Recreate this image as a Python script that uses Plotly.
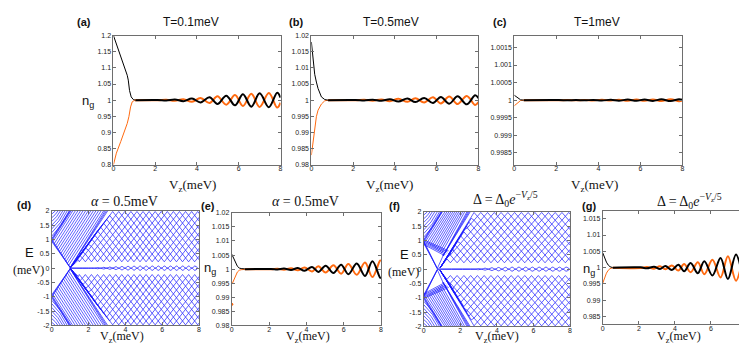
import math
import plotly.graph_objects as go

W, H = 747, 343

# ---------------- data ----------------
vz_ticks = [0, 2, 4, 6, 8]

# (a) T = 0.1 meV
a_black_x = [0, 0.14, 0.27, 0.43, 0.55, 0.66, 0.71, 0.77, 0.85, 0.95, 1.05]
a_black_y = [1.2, 1.174, 1.149, 1.123, 1.097, 1.077, 1.062, 1.03, 1.01, 1.002, 1.0]
a_orange_x = [0, 0.14, 0.35, 0.5, 0.66, 0.74, 0.82, 0.9, 1.02]
a_orange_y = [0.8, 0.836, 0.872, 0.897, 0.928, 0.949, 0.979, 0.995, 1.0]
top_peaks = [2.12, 2.53, 2.94, 3.35, 3.76, 4.17, 4.6, 4.98, 5.4, 5.82, 6.2, 6.6, 7.0, 7.44, 7.84]
a_amp = [0.0005, 0.001, 0.002, 0.003, 0.005, 0.007, 0.009, 0.012, 0.014, 0.016,
         0.018, 0.02, 0.021, 0.022, 0.023]
a_end_amp = 0.008
a_yticks = [0.8, 0.85, 0.9, 0.95, 1.0, 1.05, 1.1, 1.15, 1.2]
a_ytext = ["0.8", "0.85", "0.9", "0.95", "1", "1.05", "1.1", "1.15", "1.2"]

# (b) T = 0.5 meV
b_black_x = [0, 0.08, 0.16, 0.24, 0.32, 0.48, 0.64, 0.8]
b_black_y = [1.018, 1.0125, 1.008, 1.0056, 1.0036, 1.001, 1.0002, 1.0]
b_orange_x = [0, 0.08, 0.16, 0.24, 0.32, 0.48, 0.64, 0.8]
b_orange_y = [0.983, 0.9867, 0.9913, 0.9949, 0.9969, 0.9988, 0.9998, 1.0]
b_amp = [0.00005, 0.0001, 0.00015, 0.0002, 0.0003, 0.0004, 0.0005, 0.0006, 0.0007,
         0.0009, 0.001, 0.0011, 0.0012, 0.0013, 0.0015]
b_end_amp = 0.0006
b_yticks = [0.98, 0.985, 0.99, 0.995, 1.0, 1.005, 1.01, 1.015, 1.02]
b_ytext = ["0.98", "0.985", "0.99", "0.995", "1", "1.005", "1.01", "1.015", "1.02"]

# (c) T = 1 meV
c_black_x = [0, 0.1, 0.2, 0.3, 0.45]
c_black_y = [1.00014, 1.00009, 1.00004, 1.00001, 1.0]
c_orange_x = [0, 0.1, 0.2, 0.3, 0.45]
c_orange_y = [0.99984, 0.9999, 0.99996, 0.99999, 1.0]
c_amp = [0.000003, 0.000004, 0.000005, 0.000006, 0.000008, 0.00001, 0.000012, 0.000014,
         0.000016, 0.000018, 0.00002, 0.000022, 0.000024, 0.000026, 0.000028]
c_end_amp = 0.00001
c_yticks = [0.9985, 0.999, 0.9995, 1.0, 1.0005, 1.001, 1.0015]
c_ytext = ["0.9985", "0.999", "0.9995", "1", "1.0005", "1.001", "1.0015"]

# (e) alpha = 0.5 meV
e_black_x = [0, 0.1, 0.2, 0.3, 0.4, 0.5, 0.7]
e_black_y = [1.0053, 1.004, 1.0022, 1.001, 1.0004, 1.0002, 1.0001]
e_orange_x = [0.02, 0.1, 0.2, 0.3, 0.4, 0.5, 0.7]
e_orange_y = [0.9948, 0.996, 0.9976, 0.999, 0.9996, 0.9998, 0.9999]
e_orange_dot = [0.0, 0.9875]
e_peaks = [2.1, 2.46, 2.8, 3.18, 3.54, 3.9, 4.3, 4.64, 5.03, 5.45, 5.86, 6.25, 6.7, 7.14, 7.54, 7.95]
e_amp = [0.00005, 0.0001, 0.0002, 0.0003, 0.0004, 0.0006, 0.0008, 0.001, 0.0012, 0.0014,
         0.0016, 0.0018, 0.002, 0.0024, 0.0028, 0.003]
e_end_amp = 0.003
e_yticks = [0.98, 0.985, 0.99, 0.995, 1.0, 1.005, 1.01, 1.015, 1.02]
e_ytext = b_ytext

# (g) Delta = Delta0 exp(-Vz/5)
g_black_x = [0, 0.1, 0.2, 0.3, 0.4, 0.55]
g_black_y = [1.0045, 1.003, 1.0017, 1.0008, 1.0003, 1.0]
g_orange_x = [0, 0.1, 0.2, 0.3, 0.4, 0.55]
g_orange_y = [0.9953, 0.997, 0.9983, 0.9992, 0.9997, 1.0]
g_peaks = [2.1, 2.45, 2.84, 3.17, 3.47, 3.83, 4.19, 4.51, 4.87, 5.27, 5.63, 6.08, 6.53, 6.94, 7.39, 7.88]
g_amp = [0.0001, 0.0002, 0.0003, 0.0004, 0.0005, 0.0007, 0.0009, 0.0011, 0.0014, 0.0017,
         0.002, 0.0024, 0.003, 0.0035, 0.004, 0.0038]
g_end_amp = 0.003
g_yticks = [0.985, 0.99, 0.995, 1.0, 1.005, 1.01, 1.015]
g_ytext = ["0.985", "0.99", "0.995", "1", "1.005", "1.01", "1.015"]

# spectra (d) and (f): energies in meV
E_ticks = [-2, -1.5, -1, -0.5, 0, 0.5, 1, 1.5, 2]
E_text = ["-2", "-1.5", "-1", "-0.5", "0", "0.5", "1", "1.5", "2"]

# (d) alpha = 0.5 meV
d_node_vz = 1.0
d_desc_E0 = [0.93, 0.97, 1.01]
d_up_E0 = [0.95, 0.99, 1.03]
d_top_E0 = [1.12, 1.24, 1.37, 1.5, 1.63, 1.76, 1.89]
d_top_end_vz = [0.95, 0.84, 0.72, 0.6, 0.47, 0.34, 0.2]
d_para_t = [0.07, 0.14, 0.21, 0.28, 0.35, 0.42, 0.49, 0.56, 0.63, 0.7, 0.77, 0.84, 0.91]
d_asc_end_vz = [2.9, 2.97, 3.04]
d_level_E = [0.29, 0.425, 0.56, 0.695, 0.83, 0.965, 1.1, 1.235, 1.37, 1.505, 1.64, 1.775, 1.91]
d_level_start = [1.45, 1.55, 1.7, 1.85, 2.0, 2.15, 2.3, 2.45, 2.6, 2.75, 2.9, 3.05, 3.2]
d_zig = dict(grid0=1.0, half=0.165, amp=0.068)
d_zero_cross = [2.0, 2.33, 2.66, 2.99, 3.32, 3.65, 3.98, 4.31, 4.64, 4.97, 5.3, 5.63,
                5.96, 6.29, 6.62, 6.95, 7.28, 7.61, 7.94]
d_zero_amp = [0.01, 0.02, 0.03, 0.04, 0.05, 0.06, 0.065, 0.07, 0.075, 0.075, 0.075,
              0.075, 0.075, 0.075, 0.075, 0.075, 0.075, 0.075]

# (f) Delta = Delta0 exp(-Vz/5)
f_node_vz = 0.74
f_desc_E0 = [0.9, 0.94, 0.98]
f_up_E0 = [0.95, 0.99, 1.03]
f_top_E0 = [1.12, 1.24, 1.37, 1.5, 1.63, 1.76, 1.89]
f_top_end_vz = [0.98, 0.86, 0.74, 0.6, 0.47, 0.34, 0.2]
f_kink_E0 = [0.86, 0.9, 0.94, 0.98, 1.02]
f_kink_end = [(1.12, 0.48), (1.18, 0.52), (1.24, 0.56), (1.3, 0.6), (1.36, 0.64)]
f_edge_start = (1.05, 0.46)
f_edge_end_vz = [2.36, 2.42, 2.48, 2.54]
f_para_u = [0.08, 0.16, 0.24, 0.32, 0.4, 0.48, 0.56, 0.64, 0.72, 0.8, 0.88]
f_level_E = d_level_E
f_level_start = [1.2, 1.3, 1.45, 1.6, 1.72, 1.85, 1.98, 2.1, 2.22, 2.35, 2.47, 2.6, 2.72]
f_zig = dict(grid0=0.9, half=0.185, amp=0.068)
f_zero_cross = [2.8, 3.17, 3.54, 3.91, 4.28, 4.65, 5.02, 5.39, 5.76, 6.13, 6.5, 6.87, 7.24, 7.61, 7.98]
f_zero_amp = [0.02, 0.035, 0.05, 0.06, 0.065, 0.07, 0.07, 0.07, 0.07, 0.07, 0.07, 0.07, 0.07, 0.07]

BLACK = "#000000"
ORANGE = "#ff6a10"
BLUE = "#1a1aff"
FRAME = "#6e6e6e"

# ---------------- panel geometry (pixels) ----------------
panels = {
    "a": dict(px=(104, 272), py=(24, 156), yr=[0.8, 1.2], yt=a_yticks, ytt=a_ytext),
    "b": dict(px=(303, 471), py=(24, 156), yr=[0.98, 1.02], yt=b_yticks, ytt=b_ytext),
    "c": dict(px=(507, 676), py=(24, 156), yr=[0.99816, 1.00184], yt=c_yticks, ytt=c_ytext),
    "d": dict(px=(42, 190), py=(203, 320), yr=[-2, 2], yt=E_ticks, ytt=E_text),
    "e": dict(px=(223, 373), py=(205, 320), yr=[0.98, 1.02], yt=e_yticks, ytt=e_ytext),
    "f": dict(px=(416, 563), py=(204, 321), yr=[-2, 2], yt=E_ticks, ytt=E_text),
    "g": dict(px=(596, 741), py=(203, 319), yr=[0.9826, 1.0174], yt=g_yticks, ytt=g_ytext),
}

fig = go.Figure()
layout = dict(width=W, height=H, margin=dict(l=0, r=0, t=0, b=0), autosize=False,
              paper_bgcolor="white", plot_bgcolor="white", showlegend=False)

axis_ids = {}
for i, (k, p) in enumerate(panels.items()):
    n = "" if i == 0 else str(i + 1)
    axis_ids[k] = ("x" + n, "y" + n)
    common = dict(showline=True, linecolor=FRAME, linewidth=1, mirror="ticks",
                  ticks="inside", ticklen=3, tickcolor=FRAME, showgrid=False,
                  zeroline=False, tickfont=dict(family="Liberation Sans", size=7, color="#222"))
    layout["xaxis" + n] = dict(domain=[p["px"][0] / W, p["px"][1] / W], range=[0, 8],
                               tickvals=vz_ticks, ticktext=[str(v) for v in vz_ticks],
                               ticklabelstandoff=-3, anchor="y" + n, **common)
    layout["yaxis" + n] = dict(domain=[1 - p["py"][1] / H, 1 - p["py"][0] / H], range=p["yr"],
                               tickvals=p["yt"], ticktext=p["ytt"], anchor="x" + n, **common)


def add(panel, x, y, color, width, shape="linear", mode="lines"):
    xa, ya = axis_ids[panel]
    fig.add_trace(go.Scatter(x=x, y=y, mode=mode, xaxis=xa, yaxis=ya, hoverinfo="skip",
                             line=dict(color=color, width=width, shape=shape)))


def osc_xy(x0, peaks, amps, end_amp, last_sign, flip):
    n = len(peaks)
    xs, ys = [x0], [1.0]
    for k, (pk, am) in enumerate(zip(peaks, amps)):
        s = last_sign * flip * (1 if (n - 1 - k) % 2 == 0 else -1)
        xs.append(pk)
        ys.append(1 + s * am)
    xs.append(8.0)
    ys.append(1 + last_sign * flip * end_amp)
    return xs, ys


ng_sets = [
    ("a", a_black_x, a_black_y, a_orange_x, a_orange_y, top_peaks, a_amp, a_end_amp, 1),
    ("b", b_black_x, b_black_y, b_orange_x, b_orange_y, top_peaks, b_amp, b_end_amp, 1),
    ("c", c_black_x, c_black_y, c_orange_x, c_orange_y, top_peaks, c_amp, c_end_amp, 1),
    ("e", e_black_x, e_black_y, e_orange_x, e_orange_y, e_peaks, e_amp, e_end_amp, -1),
    ("g", g_black_x, g_black_y, g_orange_x, g_orange_y, g_peaks, g_amp, g_end_amp, -1),
]
for pn, bx, by, ox, oy, pk, am, ea, ls in ng_sets:
    add(pn, ox, oy, ORANGE, 1.0)
    add(pn, bx, by, BLACK, 1.0)
    x2, y2 = osc_xy(ox[-1], pk, am, ea, ls, -1)
    add(pn, x2, y2, ORANGE, 2.0, "spline")
    x1, y1 = osc_xy(bx[-1], pk, am, ea, ls, 1)
    add(pn, x1, y1, BLACK, 2.0, "spline")
add("e", [e_orange_dot[0]], [e_orange_dot[1]], ORANGE, 1, mode="markers")
fig.data[-1].marker = dict(color=ORANGE, size=3)


# ---------------- spectra ----------------
def spectrum(node_vz, desc_E0, up_E0, top_E0, top_end, extra_segs, levels, starts,
             fan_origin, zig, zero_cross, zero_amp):
    segs = []
    for e in desc_E0:
        segs.append(([0, node_vz], [e, 0.02]))
    for e in up_E0:
        segs.append(([0, 2 - e + (node_vz - 1.0) * 0.1], [e, 2]))
    for e, xe in zip(top_E0, top_end):
        segs.append(([0, xe * 0.55, xe], [e, e + (2 - e) * 0.45, 2]))
    segs.extend(extra_segs)
    for n, (c, s) in enumerate(zip(levels, starts)):
        xs, ys = [fan_origin[0], s], [fan_origin[1], c]
        k = math.ceil((s - zig["grid0"]) / zig["half"])
        while True:
            xv = zig["grid0"] + k * zig["half"]
            if xv > 8.3:
                break
            xs.append(xv)
            ys.append(c + zig["amp"] * (1 if (k + n) % 2 == 0 else -1))
            k += 1
        segs.append((xs, ys))
    X, Y = [], []
    for xs, ys in segs:
        X += list(xs) + [None]
        Y += list(ys) + [None]
        X += list(xs) + [None]
        Y += [-v for v in ys] + [None]
    # zero mode
    zx, zy = [node_vz], [0.0]
    for i in range(len(zero_cross)):
        zx.append(zero_cross[i]); zy.append(0.0)
        if i < len(zero_amp):
            zx.append((zero_cross[i] + zero_cross[i + 1]) / 2); zy.append(zero_amp[i])
    ZX = zx + [None] + zx
    ZY = zy + [None] + [-v for v in zy]
    return X, Y, ZX, ZY


d_extra = []
for t in d_para_t:
    d_extra.append(([t, 1 + 2 * t], [1 - t, 2]))
for xe in d_asc_end_vz:
    d_extra.append(([d_node_vz, xe], [0.02, 2]))
X, Y, ZX, ZY = spectrum(d_node_vz, d_desc_E0, d_up_E0, d_top_E0, d_top_end_vz, d_extra,
                        d_level_E, d_level_start, (1.02, 0.02), d_zig, d_zero_cross, d_zero_amp)
add("d", X, Y, BLUE, 0.7)
add("d", ZX, ZY, BLUE, 0.8, "spline")

f_extra = []
for e, (kx, ky) in zip(f_kink_E0, f_kink_end):
    f_extra.append(([0, kx * 0.5, kx], [e, e - 0.12 - (e - ky) * 0.2, ky]))
f_extra.append(([f_node_vz, 0.95, f_edge_start[0]], [0.02, 0.36, f_edge_start[1]]))
for xe in f_edge_end_vz:
    f_extra.append(([f_edge_start[0], xe], [f_edge_start[1], 2]))
for u in f_para_u:
    f_extra.append(([1.1 * u, 1.05 + 1.35 * u], [1.0 - 0.5 * u, 2]))
X, Y, ZX, ZY = spectrum(f_node_vz, f_desc_E0, f_up_E0, f_top_E0, f_top_end_vz, f_extra,
                        f_level_E, f_level_start, (0.9, 0.05), f_zig, f_zero_cross, f_zero_amp)
add("f", X, Y, BLUE, 0.7)
add("f", ZX, ZY, BLUE, 0.8, "spline")

# ---------------- text ----------------
ann = []


def txt(px, py, s, size, family="Liberation Sans", color="#111"):
    ann.append(dict(x=px / W, y=1 - py / H, xref="paper", yref="paper", text=s, showarrow=False,
                    xanchor="center", yanchor="middle", borderpad=0,
                    font=dict(family=family, size=size, color=color)))


SERIF = "Liberation Serif"
txt(74, 10, "<b>(a)</b>", 11)
txt(288, 10, "<b>(b)</b>", 11)
txt(493, 10, "<b>(c)</b>", 11)
txt(182, 10, "T=0.1meV", 12)
txt(383, 10, "T=0.5meV", 12)
txt(590, 10, "T=1meV", 12)
for cx in (183, 382, 588):
    txt(cx, 177, "V<sub>z</sub>(meV)", 13, SERIF)
for cx in (113, 300, 490, 673):
    txt(cx, 332, "V<sub>z</sub>(meV)", 12, SERIF)
txt(78, 91, "n<sub>g</sub>", 13)
txt(201, 262, "n<sub>g</sub>", 13)
txt(582, 263, "n<sub>g</sub>", 13)
txt(14, 197, "<b>(d)</b>", 11)
txt(199, 198, "<b>(e)</b>", 11)
txt(387, 198, "<b>(f)</b>", 11)
txt(582, 198, "<b>(g)</b>", 11)
txt(115, 193, "<i>α</i> = 0.5meV", 14, SERIF)
txt(297, 193, "<i>α</i> = 0.5meV", 14, SERIF)
txt(498, 191, "Δ = Δ<sub>0</sub><i>e</i><sup>−<i>V</i><sub>z</sub>/5</sup>", 14, SERIF)
txt(683, 193, "Δ = Δ<sub>0</sub><i>e</i><sup>−<i>V</i><sub>z</sub>/5</sup>", 14, SERIF)
txt(20, 246, "E", 13)
txt(19, 263, "(meV)", 12, SERIF)
txt(397, 248, "E", 13)
txt(396, 265, "(meV)", 12, SERIF)

layout["annotations"] = ann
fig.update_layout(**layout)
fig.write_html("out.html")
